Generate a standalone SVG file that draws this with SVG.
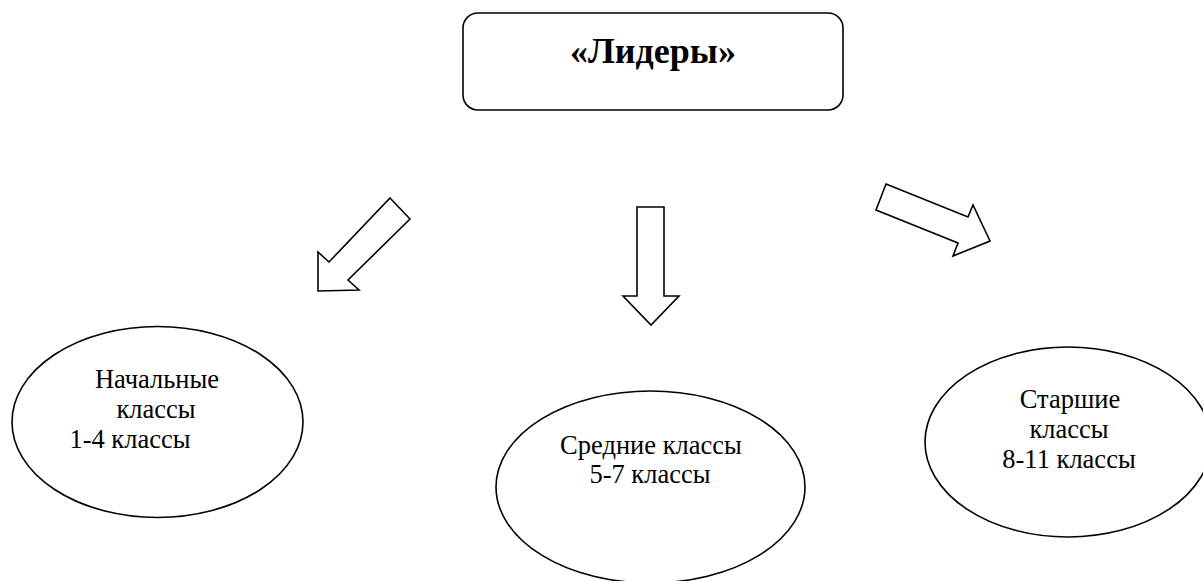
<svg xmlns="http://www.w3.org/2000/svg" width="1203" height="581" viewBox="0 0 1203 581">
<style>
.shape{fill:#fff;stroke:#000;stroke-width:1.6}
.arrow{fill:#fff;stroke:#000;stroke-width:1.6;stroke-linejoin:miter}
.lbl{font-family:"Liberation Serif","Times New Roman",serif;font-size:26.5px;fill:#000;text-anchor:middle}
.title{font-family:"Liberation Serif","Times New Roman",serif;font-size:36px;font-weight:bold;fill:#000;text-anchor:middle}
</style>
<rect width="1203" height="581" fill="#fff"/>
<g id="leaders">
<rect class="shape" x="463" y="13" width="380" height="97" rx="15" ry="15"/>
<text class="title" x="653" y="63">«Лидеры»</text>
</g>
<g id="connectors">
<polygon class="arrow" points="390,198 410,219 348,280 359,290 318,291 318,252 329,262"/>
<polygon class="arrow" points="637,207 664,207 664,296 679,296 651,325 623,296 637,296"/>
<polygon class="arrow" points="886,184 968,217 973,205 990,241 953,256 958,243 876,210"/>
</g>
<g id="primary">
<ellipse class="shape" cx="157.5" cy="422" rx="145.5" ry="95.5"/>
<text class="lbl" x="157" y="388">Начальные</text>
<text class="lbl" x="156" y="418">классы</text>
<text class="lbl" x="130" y="448">1-4 классы</text>
</g>
<g id="middle">
<ellipse class="shape" cx="650.5" cy="487" rx="154.5" ry="96"/>
<text class="lbl" x="651" y="454">Средние классы</text>
<text class="lbl" x="650" y="483">5-7 классы</text>
</g>
<g id="senior">
<ellipse class="shape" cx="1068" cy="442" rx="143" ry="95"/>
<text class="lbl" x="1070" y="408">Старшие</text>
<text class="lbl" x="1069" y="438">классы</text>
<text class="lbl" x="1069" y="468">8-11 классы</text>
</g>
</svg>
